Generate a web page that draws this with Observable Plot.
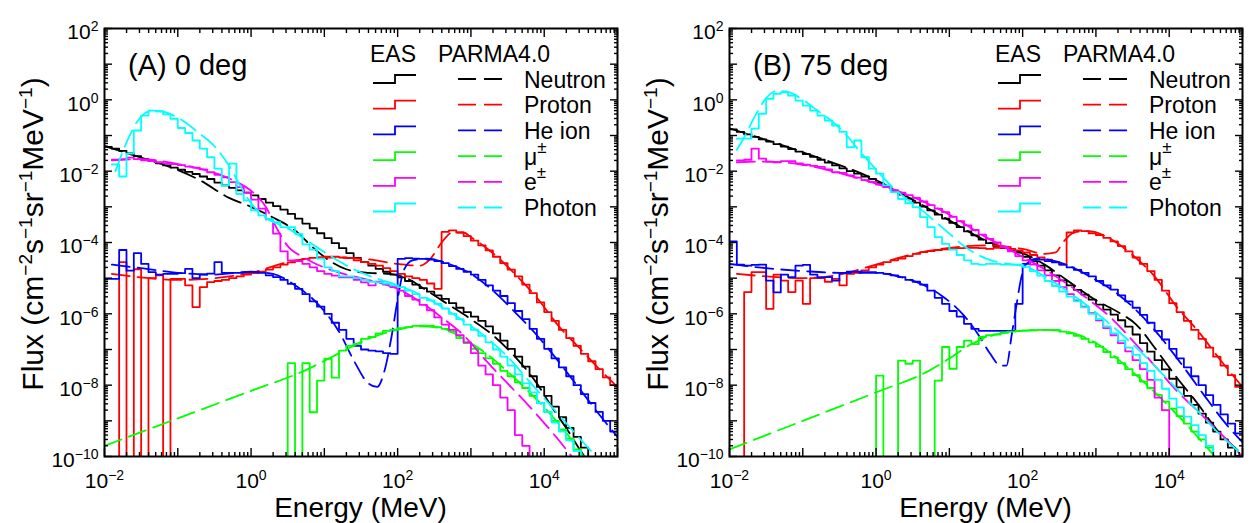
<!DOCTYPE html>
<html><head><meta charset="utf-8">
<script src="https://cdn.jsdelivr.net/npm/d3@7"></script>
<script src="https://cdn.jsdelivr.net/npm/@observablehq/plot@0.6"></script>
<style>
html,body{margin:0;padding:0;background:#fff;}
#wrap{display:flex;width:1251px;height:523px;overflow:hidden;}
#wrap svg{display:block;flex:none;}
</style></head><body><div id="wrap"></div>
<script>
// ---- markers: Z = empty (zero-count) bin, N = no bin drawn ----
const Z = "zero";
const N = null;
// EAS histograms: 10 bins per decade from 1e-2 MeV; values are log10(flux)
const binLogStart = -2;
const binLogWidth = 0.1;

const labelBase = ["Neutron","Proton","He ion","μ","e","Photon"];
const labelSup  = ["","","","±","±",""];
const particleColors = ["#000000","#ff0000","#0000ff","#00ff00","#ff00ff","#00ffff"];
const panelTitles = ["(A) 0 deg","(B) 75 deg"];
const xTickLabels = [1e-2, 1, 1e2, 1e4];
const yTickLabels = [1e-10, 1e-8, 1e-6, 1e-4, 1e-2, 1, 1e2];

// ---------- Panel A (0 deg): EAS, log10 flux per bin ----------
const neutronEAS_A = [-1.32,-1.37,-1.43,-1.50,-1.58,-1.66,-1.72,-1.78,-1.84,-1.90,
 -1.96,-2.02,-2.08,-2.15,-2.22,-2.32,-2.40,-2.47,-2.54,-2.60,
 -2.68,-2.78,-2.88,-2.98,-3.08,-3.20,-3.33,-3.47,-3.60,-3.74,
 -3.88,-4.02,-4.16,-4.30,-4.43,-4.55,-4.65,-4.74,-4.82,-4.90,
 -4.98,-5.08,-5.18,-5.28,-5.38,-5.48,-5.58,-5.70,-5.83,-5.95,
 -6.08,-6.20,-6.35,-6.55,-6.75,-6.98,-7.20,-7.48,-7.75,-8.05,
 -8.30,-8.60,-8.90,-9.20,-9.45,-9.75,Z,Z,Z,Z];
const protonEAS_A = [Z,Z,-4.55,Z,-4.75,Z,-5.00,-4.92,Z,-5.02,
 -5.02,-5.20,-5.81,-5.25,-5.11,-5.08,-5.05,-5.00,-4.95,-4.90,
 -4.86,-4.82,-4.76,-4.70,-4.62,-4.56,-4.50,-4.46,-4.43,-4.42,
 -4.40,-4.40,-4.42,-4.44,-4.50,-4.55,-4.60,-4.65,-4.72,-4.80,
 -4.88,-4.95,-5.00,-5.05,-5.15,-5.30,-3.70,-3.66,-3.72,-3.82,
 -3.95,-4.08,-4.22,-4.40,-4.58,-4.76,-4.95,-5.18,-5.42,-5.68,
 -5.95,-6.20,-6.45,-6.68,-6.90,-7.12,-7.33,-7.55,-7.78,-8.00];
const heEAS_A = [-5.02,-5.02,-4.21,-4.79,-4.30,-4.60,-4.83,-4.90,-4.88,-4.88,
 -4.86,-4.74,-5.00,-4.90,-4.87,-4.55,-4.85,-4.85,-4.85,-4.83,
 -4.83,-4.85,-4.92,-4.97,-5.05,-5.16,-5.30,-5.45,-5.65,-5.80,
 -6.00,-6.25,-6.45,-6.70,-6.90,-7.00,-7.03,-7.05,-7.10,-7.12,
 -4.46,-4.44,-4.45,-4.46,-4.48,-4.52,-4.58,-4.66,-4.74,-4.82,
 -4.90,-5.05,-5.20,-5.35,-5.50,-5.70,-5.92,-6.15,-6.42,-6.70,
 -6.98,-7.25,-7.50,-7.75,-8.00,-8.25,-8.50,-8.75,-9.00,-9.30];
const muonEAS_A = [Z,Z,Z,Z,Z,Z,Z,Z,Z,Z,
 Z,Z,Z,Z,Z,Z,Z,Z,Z,Z,
 Z,Z,Z,Z,Z,-7.38,Z,-7.38,-8.76,-7.87,
 -7.26,-7.79,-7.03,-6.90,-6.84,-6.70,-6.65,-6.55,-6.48,-6.44,
 -6.40,-6.37,-6.34,-6.33,-6.34,-6.37,-6.42,-6.50,-6.68,-6.82,
 -6.98,-7.10,-7.25,-7.40,-7.60,-7.75,-7.92,-8.08,-8.30,-8.50,
 -8.75,-9.00,-9.25,-9.50,-9.80,Z,Z,Z,Z,Z];
const eEAS_A = [N,-1.68,-1.66,-1.62,-1.66,-1.70,-1.72,-1.75,-1.78,-1.80,
 -1.83,-1.87,-1.90,-1.95,-2.03,-2.10,-2.17,-2.31,-2.45,-2.60,
 -2.80,-3.05,-3.35,-3.75,-4.25,-4.50,-4.52,-4.60,-4.70,-4.80,
 -4.88,-4.93,-4.98,-4.98,-5.05,-5.12,-5.20,-5.10,-5.18,-5.25,
 -5.35,-5.50,-5.60,-5.75,-5.90,-6.10,-6.30,-6.45,-6.60,-6.80,
 -7.10,-7.45,-7.70,-8.00,-8.35,-8.70,-9.40,-9.70,Z,Z,
 Z,Z,Z,Z,Z,Z,Z,Z,Z,Z];
const photonEAS_A = [N,-1.81,-2.15,-1.51,-0.86,-0.44,-0.30,-0.32,-0.41,-0.53,
 -0.79,-0.93,-1.14,-1.37,-1.61,-1.93,-2.40,-1.79,-2.64,-2.82,
 -3.10,-3.24,-3.34,-3.43,-3.57,-3.57,-3.76,-4.05,-4.20,-4.45,
 -4.70,-4.80,-4.95,-4.95,-5.00,-5.05,-5.10,-5.12,-5.15,-5.20,
 -5.25,-5.35,-5.45,-5.55,-5.62,-5.72,-5.85,-6.00,-6.15,-6.30,
 -6.45,-6.62,-6.80,-7.00,-7.20,-7.45,-7.70,-7.95,-8.20,-8.50,
 -8.75,-9.05,-9.30,-9.55,-9.85,Z,Z,Z,Z,Z];

// ---------- Panel A: PARMA4.0, [log10 E, log10 flux] ----------
const neutronPARMA_A = [[-2,-1.30],[-1.5,-1.62],[-1,-1.97],[-0.7,-2.25],[-0.3,-2.75],[0,-3.0],[0.3,-3.3],[0.6,-3.66],[0.85,-4.15],[1.1,-4.55],[1.3,-4.75],[1.6,-4.85],[1.9,-4.88],[2.1,-4.98],[2.4,-5.35],[2.7,-5.75],[3.0,-6.15],[3.3,-6.6],[3.6,-7.2],[3.9,-7.95],[4.1,-8.6],[4.3,-9.2],[4.5,-9.85],[4.65,-10.3]];
const protonPARMA_A = [[-1.9,-4.88],[-1.5,-4.98],[-1,-5.05],[-0.5,-5.0],[0,-4.85],[0.5,-4.55],[1.0,-4.42],[1.5,-4.45],[2.0,-4.6],[2.3,-4.65],[2.45,-4.45],[2.6,-4.0],[2.75,-3.72],[2.9,-3.72],[3.0,-3.85],[3.3,-4.3],[3.6,-4.88],[3.9,-5.55],[4.2,-6.35],[4.5,-7.0],[4.8,-7.65],[5.0,-8.05]];
const hePARMA_A = [[-1.9,-4.62],[-1.5,-4.72],[-1,-4.85],[-0.5,-4.9],[0,-4.82],[0.3,-4.88],[0.6,-5.2],[0.9,-5.7],[1.2,-6.5],[1.4,-7.3],[1.6,-7.95],[1.72,-8.05],[1.82,-7.6],[1.92,-6.6],[2.0,-5.6],[2.08,-4.8],[2.2,-4.5],[2.4,-4.45],[2.7,-4.6],[3.0,-4.88],[3.3,-5.35],[3.6,-5.95],[3.9,-6.6],[4.2,-7.35],[4.5,-8.15],[4.8,-8.95],[5.0,-9.45]];
const muonPARMA_A = [[-2,-9.7],[-1,-8.93],[0,-8.16],[0.7,-7.62],[1.3,-7.0],[1.6,-6.7],[2.0,-6.45],[2.3,-6.35],[2.6,-6.4],[2.9,-6.7],[3.2,-7.1],[3.5,-7.62],[3.8,-8.2],[4.1,-8.85],[4.4,-9.6],[4.6,-10.2]];
const ePARMA_A = [[-1.9,-1.7],[-1.5,-1.66],[-1,-1.8],[-0.5,-2.05],[-0.2,-2.3],[0,-2.55],[0.2,-3.0],[0.35,-3.6],[0.5,-4.1],[0.7,-4.4],[1.0,-4.7],[1.3,-4.9],[1.6,-5.05],[2.0,-5.3],[2.3,-5.65],[2.6,-6.1],[2.9,-6.6],[3.2,-7.3],[3.5,-7.95],[3.8,-8.6],[4.1,-9.3],[4.3,-9.8],[4.45,-10.2]];
const photonPARMA_A = [[-1.85,-2.0],[-1.7,-1.2],[-1.55,-0.6],[-1.4,-0.33],[-1.25,-0.32],[-1.0,-0.5],[-0.7,-0.95],[-0.5,-1.3],[-0.3,-1.85],[-0.15,-2.4],[0,-2.9],[0.2,-3.3],[0.5,-3.6],[0.8,-4.0],[1.1,-4.4],[1.4,-4.75],[1.7,-5.0],[2.0,-5.2],[2.3,-5.45],[2.6,-5.8],[2.9,-6.2],[3.2,-6.65],[3.5,-7.2],[3.8,-7.9],[4.1,-8.6],[4.4,-9.3],[4.75,-10.1]];

// ---------- Panel B (75 deg): EAS, log10 flux per bin ----------
const neutronEAS_B = [-0.83,-0.90,-0.97,-1.04,-1.11,-1.17,-1.24,-1.31,-1.38,-1.45,
 -1.52,-1.60,-1.68,-1.76,-1.84,-1.92,-2.00,-2.07,-2.15,-2.22,
 -2.33,-2.44,-2.55,-2.66,-2.77,-2.88,-2.99,-3.10,-3.22,-3.33,
 -3.45,-3.57,-3.69,-3.80,-3.92,-4.02,-4.10,-4.16,-4.22,-4.28,
 -4.40,-4.52,-4.65,-4.78,-4.92,-5.06,-5.20,-5.33,-5.46,-5.60,
 -5.74,-5.88,-6.02,-6.18,-6.36,-6.58,-6.82,-7.06,-7.30,-7.56,
 -7.82,-8.06,-8.30,-8.55,-8.80,-9.05,-9.30,-9.52,-9.75,-9.98];
const protonEAS_B = [Z,Z,-5.39,-4.83,-4.83,-5.86,-4.90,-5.07,-5.39,-5.07,
 -5.72,-5.00,-5.00,-5.10,-5.02,-5.20,-4.88,-4.85,-4.78,-4.70,
 -4.62,-4.55,-4.50,-4.45,-4.38,-4.32,-4.27,-4.24,-4.21,-4.19,
 -4.17,-4.16,-4.15,-4.15,-4.16,-4.18,-4.15,-4.15,-4.18,-4.22,
 -4.28,-4.35,-4.42,-4.48,-4.55,-4.62,-3.72,-3.66,-3.68,-3.74,
 -3.79,-3.87,-3.97,-4.10,-4.25,-4.42,-4.60,-4.80,-5.05,-5.35,
 -5.70,-5.95,-6.20,-6.45,-6.70,-6.95,-7.20,-7.45,-7.72,-8.05];
const heEAS_B = [-3.97,-4.62,-4.65,-4.63,-4.62,-5.07,-5.40,-4.90,-4.97,-4.65,
 -4.63,-4.90,-4.98,-4.97,-5.07,-4.85,-4.82,-4.82,-4.83,-4.83,
 -4.85,-4.88,-4.92,-4.97,-5.05,-5.10,-5.18,-5.35,-5.55,-5.72,
 -5.92,-6.08,-6.28,-6.42,-6.48,-6.48,-6.48,-6.48,-6.48,-5.72,
 -4.60,-4.48,-4.48,-4.52,-4.56,-4.62,-4.70,-4.77,-4.85,-4.95,
 -5.08,-5.20,-5.32,-5.48,-5.65,-5.83,-6.03,-6.25,-6.48,-6.72,
 -6.98,-7.25,-7.50,-7.75,-8.00,-8.28,-8.55,-8.82,-9.08,-9.35];
const muonEAS_B = [Z,Z,Z,Z,Z,Z,Z,Z,Z,Z,
 Z,Z,Z,Z,Z,Z,Z,Z,Z,Z,
 -7.73,Z,Z,-7.31,-7.40,-7.31,Z,Z,-7.87,-6.93,
 -7.54,-6.93,-6.75,-6.85,-6.65,-6.60,-6.58,-6.53,-6.50,-6.48,
 -6.47,-6.46,-6.45,-6.45,-6.46,-6.50,-6.55,-6.62,-6.70,-6.80,
 -6.92,-7.07,-7.22,-7.38,-7.55,-7.72,-7.90,-8.08,-8.27,-8.46,
 -8.66,-8.87,-9.08,-9.30,-9.52,-9.75,Z,Z,Z,Z];
const eEAS_B = [N,-1.70,-1.68,-1.37,-1.65,-1.73,-1.75,-1.72,-1.72,-1.78,
 -1.82,-1.85,-1.88,-1.95,-2.03,-2.05,-2.12,-2.18,-2.25,-2.30,
 -2.38,-2.45,-2.53,-2.60,-2.67,-2.75,-2.85,-2.95,-3.05,-3.15,
 -3.28,-3.40,-3.52,-3.65,-3.78,-3.90,-4.00,-4.12,-4.25,-4.38,
 -4.50,-4.62,-4.78,-4.92,-5.08,-5.25,-5.45,-5.62,-5.80,-5.98,
 -6.18,-6.40,-6.60,-6.82,-7.05,-7.30,-7.55,-7.85,-8.35,-8.70,
 Z,Z,Z,Z,Z,Z,Z,Z,Z,Z];
const photonEAS_B = [N,-1.09,-1.09,-0.81,-0.39,0.03,0.17,0.21,0.12,-0.02,
 -0.16,-0.30,-0.44,-0.58,-0.72,-0.90,-1.33,-1.14,-1.61,-1.93,
 -2.07,-2.40,-2.59,-2.78,-2.90,-3.01,-3.29,-3.57,-3.85,-4.04,
 -4.20,-4.35,-4.50,-4.60,-4.62,-4.60,-4.60,-4.62,-4.62,-4.62,
 -4.68,-4.80,-4.93,-5.08,-5.22,-5.38,-5.52,-5.65,-5.82,-6.00,
 -6.15,-6.35,-6.55,-6.75,-6.95,-7.15,-7.38,-7.60,-7.85,-8.10,
 -8.38,-8.62,-8.88,-9.12,-9.40,-9.70,Z,Z,Z,Z];

// ---------- Panel B: PARMA4.0, [log10 E, log10 flux] ----------
const neutronPARMA_B = [[-2,-0.8],[-1,-1.47],[0,-2.25],[0.5,-2.8],[1,-3.38],[1.5,-3.95],[1.8,-4.18],[2.0,-4.3],[2.3,-4.62],[2.6,-5.05],[3.0,-5.62],[3.3,-5.95],[3.55,-6.3],[3.82,-7.0],[4.1,-7.78],[4.4,-8.55],[4.65,-9.25],[4.92,-9.8],[5.0,-9.95]];
const protonPARMA_B = [[-1.9,-4.88],[-1.5,-4.95],[-1,-5.0],[-0.5,-4.9],[0,-4.62],[0.5,-4.33],[1,-4.15],[1.5,-4.08],[2.0,-4.18],[2.3,-4.32],[2.45,-4.28],[2.55,-4.0],[2.7,-3.72],[2.9,-3.68],[3.2,-3.9],[3.5,-4.35],[3.8,-4.95],[4.1,-5.8],[4.4,-6.5],[4.7,-7.3],[5.0,-8.05]];
const hePARMA_B = [[-2,-4.6],[-1.5,-4.72],[-1,-4.8],[-0.5,-4.85],[0,-4.85],[0.3,-4.95],[0.6,-5.15],[0.9,-5.5],[1.2,-6.05],[1.4,-6.6],[1.55,-7.1],[1.7,-7.45],[1.78,-7.45],[1.85,-6.6],[1.92,-5.7],[1.98,-5.0],[2.05,-4.6],[2.2,-4.45],[2.4,-4.5],[2.7,-4.72],[3.0,-5.05],[3.3,-5.45],[3.6,-6.0],[3.9,-6.7],[4.2,-7.5],[4.5,-8.35],[4.8,-9.15],[5.0,-9.6]];
const muonPARMA_B = [[-2,-9.8],[-1,-9.0],[0,-8.2],[0.7,-7.62],[1.0,-7.25],[1.3,-6.85],[1.6,-6.6],[2.0,-6.47],[2.4,-6.45],[2.8,-6.62],[3.1,-6.95],[3.4,-7.45],[3.7,-8.0],[4.0,-8.6],[4.3,-9.25],[4.6,-9.95],[4.7,-10.2]];
const ePARMA_B = [[-1.9,-1.75],[-1.5,-1.73],[-1,-1.82],[-0.5,-2.05],[0,-2.35],[0.5,-2.72],[1,-3.22],[1.5,-3.85],[2.0,-4.4],[2.3,-4.75],[2.6,-5.15],[2.9,-5.6],[3.2,-6.1],[3.5,-6.75],[3.8,-7.45],[4.1,-8.15],[4.4,-8.75],[4.7,-9.35],[5.0,-10.0]];
const photonPARMA_B = [[-1.9,-1.4],[-1.8,-1.05],[-1.65,-0.45],[-1.5,0.05],[-1.35,0.25],[-1.2,0.22],[-1.0,0.0],[-0.8,-0.3],[-0.6,-0.6],[-0.4,-1.0],[-0.2,-1.5],[0,-1.95],[0.2,-2.4],[0.4,-2.75],[0.6,-3.05],[0.8,-3.4],[1.0,-3.75],[1.2,-4.1],[1.5,-4.45],[1.8,-4.6],[2.0,-4.65],[2.3,-4.95],[2.6,-5.35],[2.9,-5.8],[3.2,-6.3],[3.5,-6.85],[3.8,-7.45],[4.1,-8.1],[4.4,-8.75],[4.7,-9.4],[5.0,-9.95]];

// ---------- build ----------
const FONT = "'Liberation Sans', Arial, Helvetica, sans-serif";
const SVGNS = "http://www.w3.org/2000/svg";
const xMajor = d3.range(-2, 6).map(e => 10 ** e);
const yMajor = d3.range(-10, 3).map(e => 10 ** e);
const minorOf = (lo, hi) => d3.range(lo, hi).flatMap(e => d3.range(2, 10).map(m => m * 10 ** e));
const xMinor = minorOf(-2, 5);
const yMinor = minorOf(-10, 2);

function toFlux(v) { return v === N ? NaN : v === Z ? 1e-30 : 10 ** v; }
function stepRows(vals) {
  const rows = vals.map((v, k) => ({E: 10 ** (binLogStart + k * binLogWidth), F: toFlux(v)}));
  rows.push({E: 10 ** (binLogStart + vals.length * binLogWidth), F: toFlux(vals[vals.length - 1])});
  return rows;
}
function curveRows(pairs) { return pairs.map(([le, lf]) => ({E: 10 ** le, F: 10 ** lf})); }
function expFormat(d) {
  const e = Math.round(Math.log10(d));
  return "10^" + (e < 0 ? "\u2212" + (-e) : String(e));
}

function makePanel(idx, eas, parma) {
  const marks = [];
  eas.forEach((vals, i) => {
    marks.push(Plot.line(stepRows(vals), {x: "E", y: "F", curve: "step-after", stroke: particleColors[i], strokeWidth: 1.8, clip: true}));
    marks.push(Plot.line(curveRows(parma[i]), {x: "E", y: "F", curve: "monotone-x", stroke: particleColors[i], strokeWidth: 1.8, strokeDasharray: "18,8", clip: true}));
  });
  const tk = {stroke: "black", strokeWidth: 1.4, fill: "none", label: null};
  marks.push(
    Plot.axisX({...tk, anchor: "bottom", ticks: xMinor, tickSize: -4}),
    Plot.axisX({...tk, anchor: "bottom", ticks: xMajor, tickSize: -8}),
    Plot.axisX({...tk, anchor: "top", ticks: xMinor, tickSize: -4}),
    Plot.axisX({...tk, anchor: "top", ticks: xMajor, tickSize: -8}),
    Plot.axisY({...tk, anchor: "left", ticks: yMinor, tickSize: -4}),
    Plot.axisY({...tk, anchor: "left", ticks: yMajor, tickSize: -8}),
    Plot.axisY({...tk, anchor: "right", ticks: yMinor, tickSize: -4}),
    Plot.axisY({...tk, anchor: "right", ticks: yMajor, tickSize: -8}),
    Plot.axisX({anchor: "bottom", ticks: xTickLabels, tickSize: 0, tickPadding: 17, tickFormat: expFormat, label: null, fontSize: 21, fill: "black"}),
    Plot.axisY({anchor: "left", ticks: yTickLabels, tickSize: 0, tickPadding: 6, tickFormat: expFormat, label: null, fontSize: 21, fill: "black", dy: 4}),
    Plot.frame({stroke: "black", strokeWidth: 2})
  );
  const svg = Plot.plot({
    width: 625, height: 523,
    marginLeft: 104, marginRight: 8, marginTop: 28, marginBottom: 67,
    x: {type: "log", domain: [1e-2, 1e5]},
    y: {type: "log", domain: [1e-10, 1e2]},
    style: {fontFamily: FONT, fontSize: "21px", color: "black", background: "white", overflow: "visible"},
    marks
  });
  decorate(svg, idx);
  return svg;
}

function decorate(svg, idx) {
  // superscript exponents on tick labels
  svg.querySelectorAll("text").forEach(t => {
    const m = /^10\^(.+)$/.exec(t.textContent);
    if (!m) return;
    t.textContent = "";
    t.setAttribute("font-size", "21");
    t.style.fontSize = "21px";
    const a = document.createElementNS(SVGNS, "tspan"); a.textContent = "10";
    a.setAttribute("font-size", "21");
    const b = document.createElementNS(SVGNS, "tspan"); b.textContent = m[1];
    b.setAttribute("dy", "-8"); b.setAttribute("font-size", "14");
    t.append(a, b);
  });
  const s = d3.select(svg);
  const g = s.append("g").attr("font-family", FONT).attr("fill", "black").attr("text-anchor", "start");
  g.append("text").attr("x", 128).attr("y", 75).attr("font-size", 29).text(panelTitles[idx]);
  g.append("text").attr("x", 360.5).attr("y", 517).attr("text-anchor", "middle").attr("font-size", 28).text("Energy (MeV)");
  const yl = g.append("text").attr("transform", "translate(43,234) rotate(-90)").attr("text-anchor", "middle").attr("font-size", 30);
  const parts = [["Flux (cm", 0], ["\u22122", 1], ["s", 0], ["\u22121", 1], ["sr", 0], ["\u22121", 1], ["MeV", 0], ["\u22121", 1], [")", 0]];
  let raised = false;
  parts.forEach(([txt, sup]) => {
    const ts = yl.append("tspan").text(txt);
    if (sup) { ts.attr("font-size", 19).attr("dy", raised ? 0 : -11); raised = true; }
    else { if (raised) ts.attr("dy", 11); raised = false; }
  });
  // legend
  const lg = g.append("g").attr("font-size", 23).attr("text-anchor", "start");
  lg.append("text").attr("x", 370).attr("y", 62).text("EAS");
  lg.append("text").attr("x", 438).attr("y", 62).text("PARMA4.0");
  particleColors.forEach((c, i) => {
    const cy = 79 + 25.7 * i;
    lg.append("path").attr("d", `M373,${cy + 4}H395V${cy - 4}H416`).attr("fill", "none").attr("stroke", c).attr("stroke-width", 1.8);
    lg.append("line").attr("x1", 458).attr("x2", 502).attr("y1", cy).attr("y2", cy).attr("stroke", c).attr("stroke-width", 1.8).attr("stroke-dasharray", "18,8");
    const t = lg.append("text").attr("x", 524).attr("y", cy + 8.5);
    t.append("tspan").text(labelBase[i]);
    if (labelSup[i]) t.append("tspan").attr("dy", -12).attr("font-size", 17).text(labelSup[i]);
  });
}

const wrap = document.getElementById("wrap");
wrap.append(
  makePanel(0, [neutronEAS_A, protonEAS_A, heEAS_A, muonEAS_A, eEAS_A, photonEAS_A],
               [neutronPARMA_A, protonPARMA_A, hePARMA_A, muonPARMA_A, ePARMA_A, photonPARMA_A]),
  makePanel(1, [neutronEAS_B, protonEAS_B, heEAS_B, muonEAS_B, eEAS_B, photonEAS_B],
               [neutronPARMA_B, protonPARMA_B, hePARMA_B, muonPARMA_B, ePARMA_B, photonPARMA_B])
);
</script></body></html>
